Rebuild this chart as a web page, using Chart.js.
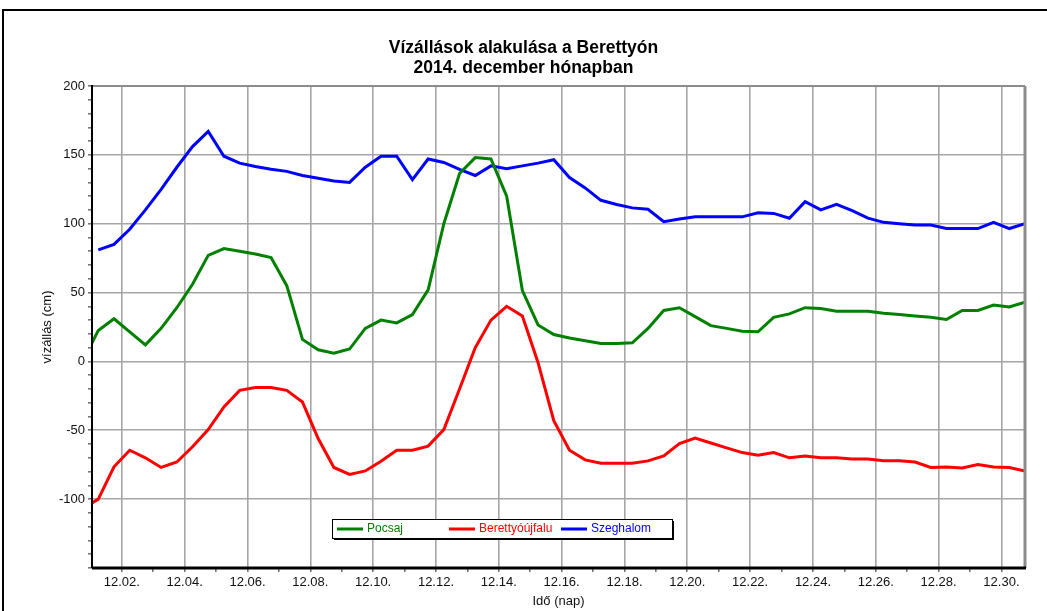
<!DOCTYPE html>
<html>
<head>
<meta charset="utf-8">
<script src="https://cdn.jsdelivr.net/npm/chart.js@4/dist/chart.umd.min.js"></script>
<style>
  html, body { margin: 0; padding: 0; background: #fff; }
  #wrap { width: 1047px; height: 611px; position: relative; }
</style>
</head>
<body>
<div id="wrap"><canvas id="vizallasChart"></canvas></div>
<script>
// readings twice a day (06 and 18 h), time in days of December 2014
const times = [
  0.75, 1.25, 1.75, 2.25, 2.75, 3.25, 3.75, 4.25, 4.75, 5.25, 5.75,
  6.25, 6.75, 7.25, 7.75, 8.25, 8.75, 9.25, 9.75, 10.25, 10.75,
  11.25, 11.75, 12.25, 12.75, 13.25, 13.75, 14.25, 14.75, 15.25, 15.75,
  16.25, 16.75, 17.25, 17.75, 18.25, 18.75, 19.25, 19.75, 20.25, 20.75,
  21.25, 21.75, 22.25, 22.75, 23.25, 23.75, 24.25, 24.75, 25.25, 25.75,
  26.25, 26.75, 27.25, 27.75, 28.25, 28.75, 29.25, 29.75, 30.25, 30.75
];

const pocsaj = [
  0, 22.5, 31, 21.5, 12, 24, 39, 56, 77, 82, 80,
  78, 75.5, 55, 16, 8.5, 6, 9, 24, 30, 28,
  34, 52, 100, 136.5, 148, 147, 120, 51.5, 26.5, 19.5,
  17, 15, 13, 13, 13.5, 24, 37, 39, 32.5, 26,
  24, 22, 21.5, 32, 34.5, 39, 38.5, 36.5, 36.5, 36.5,
  35, 34, 33, 32, 30.5, 37, 37, 41, 39.5, 43
];

const berettyoujfalu = [
  -107, -100, -76.5, -64.5, -70, -77, -73, -62, -49.5, -33, -21,
  -19, -19, -21, -29.5, -56, -77, -82, -79.5, -72.5, -64.5,
  -64.5, -61.5, -49.5, -20, 10, 30, 40, 33, -1, -43,
  -64.5, -71.5, -74, -74, -74, -72.2, -68.6, -59.7, -55.6, -59.2,
  -62.8, -66.2, -68.1, -66.2, -70, -68.6, -70, -70, -70.8, -70.8,
  -72.2, -72.2, -73, -77, -76.6, -77.3, -74.9, -76.6, -77, -79.5
];

const szeghalom = [
  null, 81, 85, 96, 110, 125, 141, 156, 167, 149, 144,
  141.5, 139.5, 138, 135, 133, 131, 130, 141, 149, 149,
  132, 147, 144.5, 139.5, 135, 142, 140, 142, 144, 146.5,
  133.5, 126, 117, 114, 111.5, 110.5, 101.5, 103.5, 105, 105,
  105, 105, 108, 107.5, 104, 116, 110, 114, 109.5, 104,
  101, 100, 99, 99, 96.5, 96.5, 96.5, 101, 96.5, 100
];

const tickDays = [2, 4, 6, 8, 10, 12, 14, 16, 18, 20, 22, 24, 26, 28, 30];
const tickLabels = ['12.02.', '12.04.', '12.06.', '12.08.', '12.10.', '12.12.', '12.14.',
  '12.16.', '12.18.', '12.20.', '12.22.', '12.24.', '12.26.', '12.28.', '12.30.'];

const FONT = 'Liberation Sans, Arial, sans-serif';

function points(values) {
  return times.map((t, i) => ({ x: t, y: values[i] }));
}

// white page with the black outer frame
const framePlugin = {
  id: 'frame',
  beforeDraw(chart) {
    const ctx = chart.ctx;
    ctx.save();
    ctx.fillStyle = '#fff';
    ctx.fillRect(0, 0, chart.width, chart.height);
    ctx.strokeStyle = '#000';
    ctx.lineWidth = 2;
    ctx.strokeRect(3, 10, 1100, 700);
    ctx.restore();
  }
};

// plot border: grey top/right, black left/bottom axes
const plotBorder = {
  id: 'plotBorder',
  afterDatasetsDraw(chart) {
    const { ctx, chartArea: a } = chart;
    ctx.save();
    ctx.strokeStyle = '#8c8c8c';
    ctx.lineWidth = 2;
    ctx.beginPath(); ctx.moveTo(a.left, a.top); ctx.lineTo(a.right, a.top); ctx.stroke();
    ctx.lineWidth = 3;
    ctx.beginPath(); ctx.moveTo(a.right, a.top); ctx.lineTo(a.right, a.bottom); ctx.stroke();
    ctx.strokeStyle = '#000';
    ctx.lineWidth = 2;
    ctx.beginPath(); ctx.moveTo(a.left, a.top - 1); ctx.lineTo(a.left, a.bottom); ctx.stroke();
    ctx.lineWidth = 3;
    ctx.beginPath(); ctx.moveTo(a.left, a.bottom); ctx.lineTo(a.right + 1, a.bottom); ctx.stroke();
    ctx.restore();
  }
};

// boxed legend inside the plot, with a drop shadow
const boxLegend = {
  id: 'boxLegend',
  afterDraw(chart) {
    const { ctx, chartArea: a } = chart;
    const x = a.left + 240, y = a.bottom - 49, w = 340, h = 19;
    ctx.save();
    ctx.fillStyle = '#000';
    ctx.fillRect(x + 2, y + 2, w, h);
    ctx.fillStyle = '#fff';
    ctx.fillRect(x, y, w, h);
    ctx.strokeStyle = '#000';
    ctx.lineWidth = 1;
    ctx.strokeRect(x + 0.5, y + 0.5, w, h);
    ctx.font = '12px ' + FONT;
    ctx.textBaseline = 'middle';
    chart.data.datasets.forEach((ds, i) => {
      const ix = x + 5 + i * 112;
      const cy = y + h / 2 + 0.5;
      ctx.strokeStyle = ds.borderColor;
      ctx.lineWidth = 3;
      ctx.beginPath(); ctx.moveTo(ix, cy); ctx.lineTo(ix + 26, cy); ctx.stroke();
      ctx.fillStyle = ds.borderColor;
      ctx.fillText(ds.label, ix + 30, cy);
    });
    ctx.restore();
  }
};

const ctx = document.getElementById('vizallasChart').getContext('2d');

new Chart(ctx, {
  type: 'line',
  data: {
    datasets: [
      { label: 'Pocsaj', data: points(pocsaj), borderColor: '#008000' },
      { label: 'Berettyóújfalu', data: points(berettyoujfalu), borderColor: '#ff0000' },
      { label: 'Szeghalom', data: points(szeghalom), borderColor: '#0000ff' }
    ]
  },
  options: {
    responsive: true,
    maintainAspectRatio: false,
    animation: false,
    layout: { padding: { left: 22, right: 22, top: 10, bottom: 0 } },
    elements: {
      line: { borderWidth: 3, tension: 0, fill: false },
      point: { radius: 0, hoverRadius: 0 }
    },
    datasets: { line: { clip: 0 } },
    plugins: {
      legend: { display: false },
      tooltip: { enabled: false },
      title: {
        display: true,
        text: ['Vízállások alakulása a Berettyón', '2014. december hónapban'],
        color: '#000',
        font: { family: FONT, size: 17.5, weight: 'bold', lineHeight: 1.143 },
        padding: { top: 28, bottom: 8 }
      }
    },
    scales: {
      x: {
        type: 'linear',
        min: 1.05,
        max: 30.75,
        afterFit: s => { s.height = 43; },
        afterBuildTicks: s => {
          const ticks = [];
          for (let d = 2; d <= 30; d++) ticks.push({ value: d });
          s.ticks = ticks;
        },
        ticks: {
          autoSkip: false,
          maxRotation: 0,
          padding: 3,
          color: '#111',
          font: { family: FONT, size: 13 },
          callback: v => {
            const i = tickDays.indexOf(v);
            return i >= 0 ? tickLabels[i] : '';
          }
        },
        grid: {
          color: c => (c.tick && tickDays.includes(c.tick.value)) ? '#a6a6a6' : 'transparent',
          tickColor: '#777',
          lineWidth: 1.6,
          tickLength: 4
        },
        border: { display: false },
        title: {
          display: true,
          text: 'Idő (nap)',
          color: '#111',
          font: { family: FONT, size: 13 },
          padding: { top: 0, bottom: 2 }
        }
      },
      y: {
        min: -150,
        max: 200,
        afterFit: s => { s.width = 70; },
        ticks: {
          stepSize: 10,
          autoSkip: false,
          padding: 3,
          color: '#111',
          font: { family: FONT, size: 13 },
          callback: v => (v % 50 === 0 && v > -150) ? v : ''
        },
        grid: {
          color: c => (c.tick && c.tick.value % 50 === 0) ? '#a6a6a6' : 'transparent',
          tickColor: '#777',
          lineWidth: 1.6,
          tickLength: 4
        },
        border: { display: false },
        title: {
          display: true,
          text: 'vízállás (cm)',
          color: '#111',
          font: { family: FONT, size: 13 },
          padding: { top: 18, bottom: 0 }
        }
      }
    }
  },
  plugins: [framePlugin, plotBorder, boxLegend]
});
</script>
</body>
</html>
